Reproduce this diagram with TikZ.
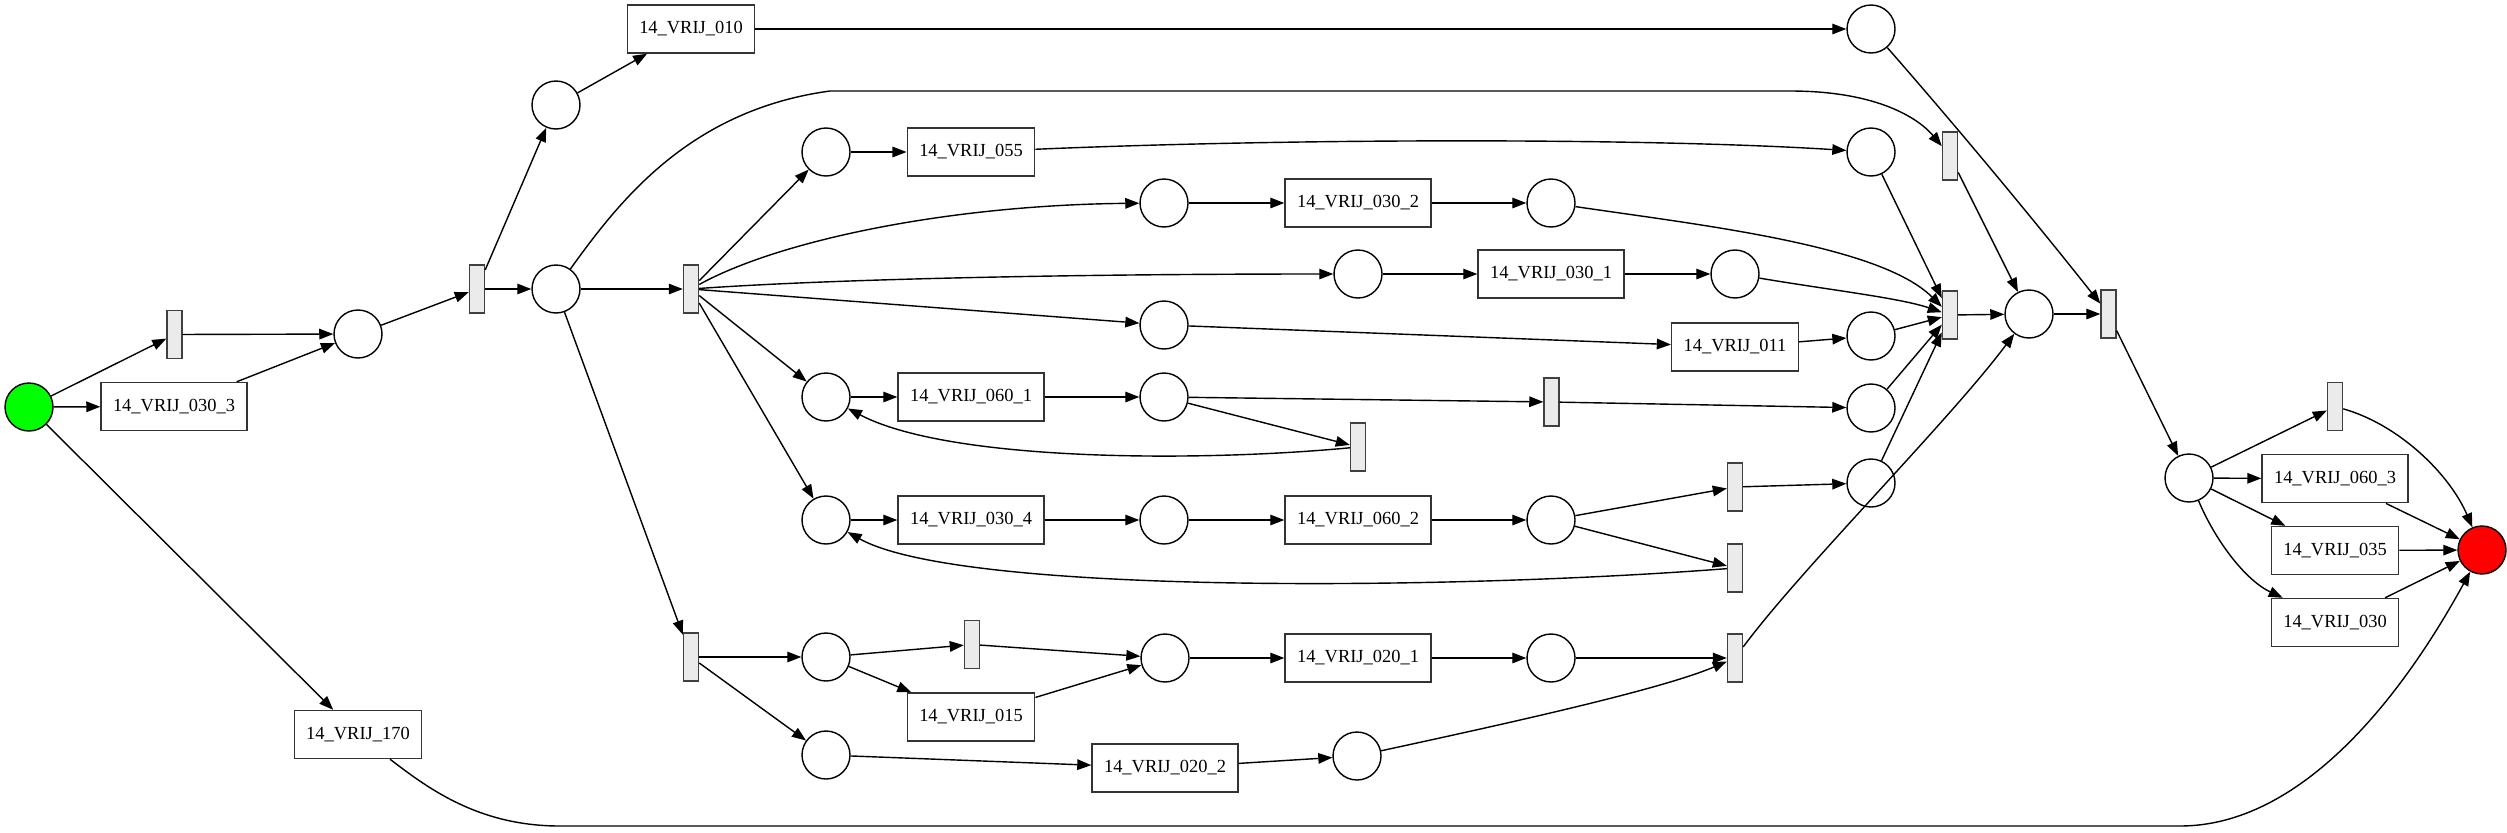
\documentclass[tikz,border=0pt]{standalone}
\usepackage{fontspec}
\setmainfont{Liberation Serif}
\usetikzlibrary{arrows.meta}

\begin{document}
\begin{tikzpicture}[x=0.02cm,y=-0.02cm,
  place/.style={draw,circle,minimum size=0.96cm,inner sep=0pt,line width=0.8pt},
  trans/.style={draw=black!75,fill=black!8,rectangle,minimum width=0.3cm,minimum height=0.96cm,inner sep=0pt,line width=0.8pt},
  task/.style={draw=black!80,rectangle,minimum height=0.96cm,inner xsep=0.24cm,font=\fontsize{10.5}{12}\selectfont,line width=0.8pt},
  flow/.style={line width=0.8pt,-{Triangle[length=8pt,width=6pt]}}]

\useasboundingbox (0,0) rectangle (2507,832);

% Places
\node[place,fill=green] (src) at (29,407) {};
\node[place] (pa1) at (358,334) {};
\node[place] (pb1) at (556,105) {};
\node[place] (pb2) at (556,289) {};
\node[place] (pc1) at (1871,29) {};
\node[place] (pd1) at (826,152) {};
\node[place] (pd2) at (1871,152) {};
\node[place] (pe1) at (1164,203) {};
\node[place] (pe2) at (1551,203) {};
\node[place] (pf1) at (1358,274) {};
\node[place] (pf2) at (1735,274) {};
\node[place] (pg1) at (1164,325) {};
\node[place] (pg2) at (1871,336) {};
\node[place] (ph1) at (826,397) {};
\node[place] (ph2) at (1164,397) {};
\node[place] (ph3) at (1871,408) {};
\node[place] (pi1) at (826,520) {};
\node[place] (pi2) at (1164,520) {};
\node[place] (pi3) at (1551,520) {};
\node[place] (pi4) at (1871,483) {};
\node[place] (pk1) at (826,657) {};
\node[place] (pk2) at (1165,658) {};
\node[place] (pk3) at (1551,658) {};
\node[place] (pl1) at (826,755) {};
\node[place] (pl2) at (1357,756) {};
\node[place] (pj) at (2029,314) {};
\node[place] (pm) at (2189,478) {};
\node[place,fill=red] (snk) at (2482,550) {};

% Silent transitions
\node[trans] (ta) at (174.5,334.5) {};
\node[trans] (tb) at (477,289) {};
\node[trans] (tc) at (691,289) {};
\node[trans] (td) at (691,657) {};
\node[trans] (tk) at (972,644.5) {};
\node[trans] (th) at (1358,447) {};
\node[trans] (tm) at (1551.5,402) {};
\node[trans] (ti) at (1735,487) {};
\node[trans] (tl) at (1735,568) {};
\node[trans] (tp) at (1735,658) {};
\node[trans] (tt) at (1950,156) {};
\node[trans] (tj) at (1950,315) {};
\node[trans] (tf) at (2108.5,314) {};
\node[trans] (tr) at (2335,406.5) {};

% Tasks
\node[task] (b0303) at (174,406.5) {14\_VRIJ\_030\_3};
\node[task] (b170) at (358,734.5) {14\_VRIJ\_170};
\node[task] (b010) at (691,29) {14\_VRIJ\_010};
\node[task] (b055) at (971,152) {14\_VRIJ\_055};
\node[task] (b0302) at (1358,203) {14\_VRIJ\_030\_2};
\node[task] (b0301) at (1551,274) {14\_VRIJ\_030\_1};
\node[task] (b011) at (1735,347) {14\_VRIJ\_011};
\node[task] (b0601) at (971,397) {14\_VRIJ\_060\_1};
\node[task] (b0304) at (971,520) {14\_VRIJ\_030\_4};
\node[task] (b0602) at (1358,520) {14\_VRIJ\_060\_2};
\node[task] (b015) at (971,717) {14\_VRIJ\_015};
\node[task] (b0201) at (1358,658) {14\_VRIJ\_020\_1};
\node[task] (b0202) at (1165,768) {14\_VRIJ\_020\_2};
\node[task] (b0603) at (2335,478.7) {14\_VRIJ\_060\_3};
\node[task] (b035) at (2335,550.5) {14\_VRIJ\_035};
\node[task] (b030) at (2335,622.5) {14\_VRIJ\_030};

% Straight arcs
\foreach \a/\b in {src/ta,src/b0303,src/b170,ta/pa1,b0303/pa1,pa1/tb,tb/pb1,tb/pb2,
    pb1/b010,b010/pc1,pb2/tc,pb2/td,tc/pd1,tc/pg1,tc/ph1,tc/pi1,pd1/b055,
    pe1/b0302,b0302/pe2,pf1/b0301,b0301/pf2,pg1/b011,b011/pg2,pg2/tj,
    ph1/b0601,b0601/ph2,ph2/tm,ph2/th,tm/ph3,ph3/tj,pd2/tj,pi4/tj,
    pi1/b0304,b0304/pi2,pi2/b0602,b0602/pi3,pi3/ti,pi3/tl,ti/pi4,
    td/pk1,td/pl1,pk1/tk,pk1/b015,tk/pk2,b015/pk2,pk2/b0201,b0201/pk3,pk3/tp,
    pl1/b0202,b0202/pl2,tt/pj,tj/pj,pj/tf,tf/pm,pm/tr,pm/b0603,pm/b035,
    b0603/snk,b035/snk,b030/snk}
  \draw[flow] (\a) -- (\b);

% Curved arcs
\draw[flow] (pb2) .. controls (620,200) and (690,110) .. (830,91) -- (1790,91)
  .. controls (1880,91) and (1920,120) .. (tt);
\draw[flow] (pc1) .. controls (1955,125) and (2030,215) .. (tf);
\draw[flow] (tc) .. controls (780,240) and (950,205) .. (pe1);
\draw[flow] (tc) .. controls (850,278) and (1100,274) .. (pf1);
\draw[flow] (b055) .. controls (1300,138) and (1650,138) .. (pd2);
\draw[flow] (pe2) .. controls (1700,225) and (1880,245) .. (tj);
\draw[flow] (pf2) .. controls (1830,290) and (1900,298) .. (tj);
\draw[flow] (th) .. controls (1200,462) and (950,462) .. (ph1);
\draw[flow] (tl) .. controls (1450,590) and (960,595) .. (pi1);
\draw[flow] (pl2) .. controls (1500,725) and (1660,690) .. (tp);
\draw[flow] (tp) .. controls (1800,570) and (1950,420) .. (pj);
\draw[flow] (pm) .. controls (2215,540) and (2245,580) .. (b030);
\draw[flow] (tr) .. controls (2400,425) and (2450,475) .. (snk);
\draw[flow] (b170) .. controls (430,790) and (480,826) .. (560,826) -- (2180,826)
  .. controls (2300,826) and (2400,700) .. (snk);

\end{tikzpicture}
\end{document}
